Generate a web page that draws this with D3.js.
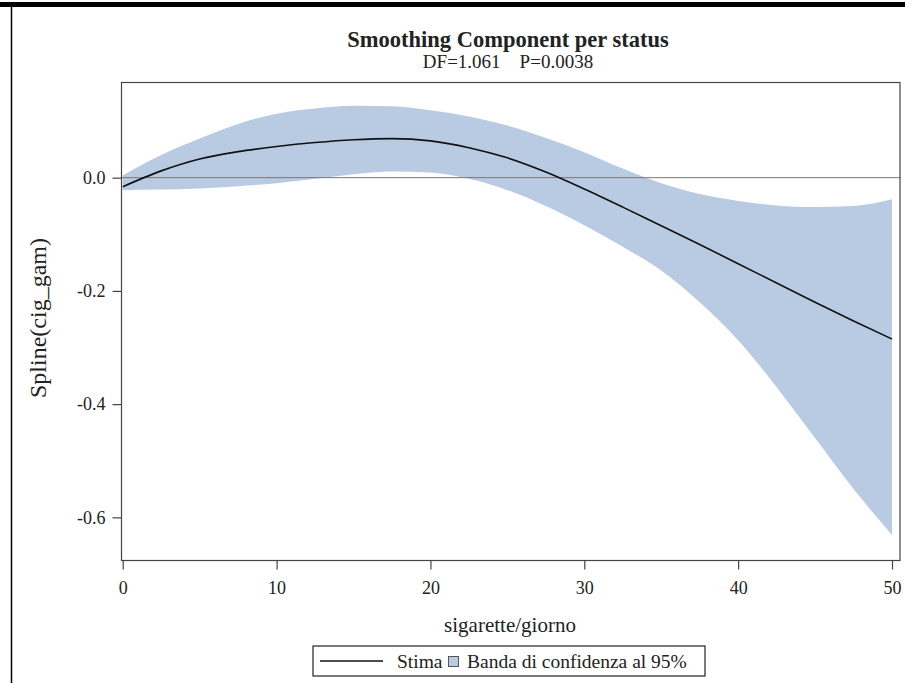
<!DOCTYPE html>
<html>
<head>
<meta charset="utf-8">
<script src="https://cdn.jsdelivr.net/npm/d3@7"></script>
<style>
  body { margin: 0; background: #fff; }
  text { font-family: "Liberation Serif", "DejaVu Serif", serif; fill: #222; }
</style>
</head>
<body>
<script>
// sigarette/giorno
var xVals = [0, 2.5, 5, 7.5, 10, 12.5, 15, 17.5, 20, 22.5, 25, 27.5, 30, 32.5, 35, 37.5, 40, 42.5, 45, 47.5, 50];
// stima
var estVals = [-0.016, 0.012, 0.033, 0.046, 0.055, 0.062, 0.067, 0.069, 0.065, 0.053, 0.035, 0.010, -0.020, -0.052, -0.085, -0.118, -0.152, -0.186, -0.220, -0.253, -0.285];
// banda di confidenza 95%
var upperVals = [0.004, 0.040, 0.069, 0.095, 0.113, 0.122, 0.127, 0.126, 0.119, 0.108, 0.092, 0.070, 0.045, 0.016, -0.010, -0.029, -0.041, -0.049, -0.052, -0.050, -0.038];
var lowerVals = [-0.022, -0.021, -0.019, -0.015, -0.010, -0.002, 0.006, 0.011, 0.009, -0.002, -0.022, -0.050, -0.084, -0.122, -0.164, -0.220, -0.287, -0.370, -0.460, -0.550, -0.631];

var xTicks = [0, 10, 20, 30, 40, 50];
var yTicks = [0.0, -0.2, -0.4, -0.6];

var title = 'Smoothing Component per status';
var subtitle = 'DF=1.061    P=0.0038';

var W = 905, H = 683;
var svg = d3.select('body').append('svg').attr('width', W).attr('height', H);

// outer page frame
svg.append('rect').attr('x', 0).attr('y', 2).attr('width', W).attr('height', 5).attr('fill', '#000');
svg.append('line').attr('x1', 11.5).attr('x2', 11.5).attr('y1', 6).attr('y2', H)
  .attr('stroke', '#000').attr('stroke-width', 1.5);

var plot = {left: 121.5, top: 82.5, right: 900, bottom: 560.5};

var x = d3.scaleLinear().domain([-0.08, 50.52]).range([plot.left, plot.right]);
var y = d3.scaleLinear().domain([0.1681, -0.6762]).range([plot.top, plot.bottom]);

var data = xVals.map(function (v, i) {
  return {x: v, est: estVals[i], lo: lowerVals[i], hi: upperVals[i]};
});

var band = d3.area()
  .x(function (d) { return x(d.x); })
  .y0(function (d) { return y(d.lo); })
  .y1(function (d) { return y(d.hi); })
  .curve(d3.curveMonotoneX);

var line = d3.line()
  .x(function (d) { return x(d.x); })
  .y(function (d) { return y(d.est); })
  .curve(d3.curveMonotoneX);

svg.append('path').datum(data).attr('d', band).attr('fill', '#b8cbe3');

// reference line at 0
svg.append('line')
  .attr('x1', plot.left).attr('x2', plot.right)
  .attr('y1', y(0)).attr('y2', y(0))
  .attr('stroke', '#777').attr('stroke-width', 1);

svg.append('path').datum(data).attr('d', line)
  .attr('fill', 'none').attr('stroke', '#111').attr('stroke-width', 1.6);

svg.append('rect')
  .attr('x', plot.left).attr('y', plot.top)
  .attr('width', plot.right - plot.left).attr('height', plot.bottom - plot.top)
  .attr('fill', 'none').attr('stroke', '#444').attr('stroke-width', 1.2);

// SAS style: plain hyphen for negatives
function fmtY(d) { return d3.format('.1f')(d).replace('\u2212', '-'); }

var xAxis = svg.append('g')
  .attr('transform', 'translate(0,' + plot.bottom + ')')
  .call(d3.axisBottom(x).tickValues(xTicks).tickSize(9).tickPadding(12).tickFormat(d3.format('d')));
var yAxis = svg.append('g')
  .attr('transform', 'translate(' + plot.left + ',0)')
  .call(d3.axisLeft(y).tickValues(yTicks).tickSize(9).tickPadding(7).tickFormat(fmtY));

[xAxis, yAxis].forEach(function (g) {
  g.select('.domain').remove();
  g.selectAll('.tick line').attr('stroke', '#444').attr('stroke-width', 1.2);
  g.selectAll('.tick text')
    .style('font-family', '"Liberation Serif", serif')
    .style('font-size', '18px').attr('fill', '#333');
});

svg.append('text').attr('x', 508).attr('y', 47)
  .attr('text-anchor', 'middle').style('font-size', '22.5px').style('font-weight', 'bold')
  .attr('fill', '#111').text(title);
svg.append('text').attr('x', 508).attr('y', 68)
  .attr('text-anchor', 'middle').style('font-size', '19px').style('white-space', 'pre')
  .attr('fill', '#222').text(subtitle);

svg.append('text').attr('x', 510).attr('y', 632)
  .attr('text-anchor', 'middle').style('font-size', '21px').attr('fill', '#222')
  .text('sigarette/giorno');
svg.append('text')
  .attr('transform', 'translate(46,318) rotate(-90)')
  .attr('text-anchor', 'middle').style('font-size', '24px').attr('fill', '#222')
  .text('Spline(cig_gam)');

// legend
var leg = svg.append('g');
leg.append('rect').attr('x', 313).attr('y', 646).attr('width', 392).attr('height', 30)
  .attr('fill', '#fff').attr('stroke', '#222').attr('stroke-width', 1.2);
leg.append('line').attr('x1', 320).attr('x2', 383).attr('y1', 661).attr('y2', 661)
  .attr('stroke', '#111').attr('stroke-width', 1.6);
leg.append('text').attr('x', 397).attr('y', 668).style('font-size', '19.5px').text('Stima');
leg.append('rect').attr('x', 448.5).attr('y', 656.5).attr('width', 10).attr('height', 10)
  .attr('fill', '#b8cbe3').attr('stroke', '#555').attr('stroke-width', 1);
leg.append('text').attr('x', 467).attr('y', 668).style('font-size', '19.5px')
  .text('Banda di confidenza al 95%');
</script>
</body>
</html>
